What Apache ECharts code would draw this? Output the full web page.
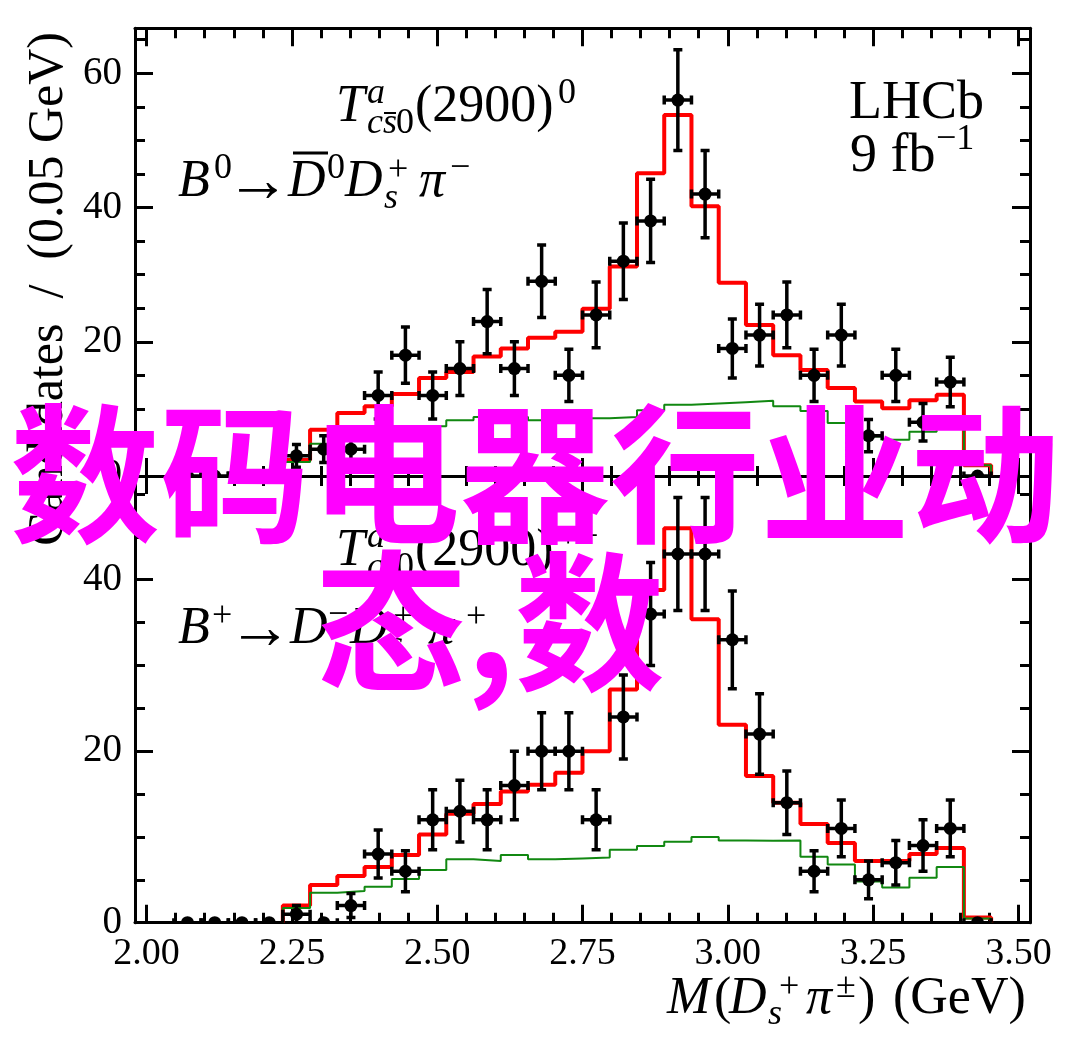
<!DOCTYPE html>
<html><head><meta charset="utf-8">
<script src="https://cdn.jsdelivr.net/npm/echarts@6/dist/echarts.min.js"></script>
<style>html,body{margin:0;padding:0;background:#fff}#c{width:1080px;height:1057px}</style>
</head><body><div id="c"></div>
<script>
// ---------------- data ----------------
const binEdges = [2.000000, 2.046875, 2.093750, 2.140625, 2.187500, 2.234375, 2.281250, 2.328125,
  2.375000, 2.421875, 2.468750, 2.515625, 2.562500, 2.609375, 2.656250, 2.703125, 2.750000,
  2.796875, 2.843750, 2.890625, 2.937500, 2.984375, 3.031250, 3.078125, 3.125000, 3.171875,
  3.218750, 3.265625, 3.312500, 3.359375, 3.406250, 3.453125, 3.500000];

const topCounts   = [null,0,0,0,0,3,4,4,12,18,12,16,23,16,29,15,24,32,38,56,42,19,21,24,15,21,6,15,8,14,0,null];
const topErrors   = [null,0,0,0,0,1.7,2.0,2.0,3.5,4.2,3.5,4.0,4.8,4.0,5.4,3.9,4.9,5.7,6.2,7.5,6.5,4.4,4.6,4.9,3.9,4.6,2.4,3.9,2.8,3.7,0,null];
const topTotalFit = [0,0,0,0,0,2.4,6.9,9.4,10.4,12.2,14.6,15.5,17.8,19.0,20.6,21.5,24.9,31.2,45.1,53.8,40.2,28.8,22.5,18.0,15.8,13.1,11.1,10.1,11.3,12.1,1.6,0];
const topBkgFit   = [0,0,0,0,0,2.1,4.8,5.4,6.0,6.8,7.4,8.3,8.8,8.8,8.3,8.3,8.6,8.8,9.8,10.6,10.8,11.0,11.2,10.4,9.7,7.9,5.9,5.4,6.6,7.9,1.6,0];

const botCounts   = [null,0,0,0,0,1,0,2,8,6,12,13,12,16,20,20,12,24,36,43,43,33,22,14,6,11,5,7,9,11,0,null];
const botErrors   = [null,0,0,0,0,1.0,0,1.4,2.8,2.4,3.5,3.6,3.5,4.0,4.5,4.5,3.5,4.9,6.0,6.6,6.6,5.7,4.7,3.7,2.4,3.3,2.2,2.6,3.0,3.3,0,null];
const botTotalFit = [0,0,0,0,0,2.0,4.4,5.45,6.5,7.9,10.3,12.7,13.85,15.3,16.1,17.5,20.0,27.2,38.8,46.0,35.4,23.1,17.1,14.0,11.5,9.3,7.2,7.2,8.0,8.7,0.6,0];
const botBkgFit   = [0,0,0,0,0,1.7,3.5,3.7,4.2,5.1,6.15,7.4,7.2,7.9,7.4,7.5,7.6,8.5,8.95,9.45,10.0,9.6,9.55,9.6,7.7,6.8,4.8,4.1,5.25,6.5,0.5,0];

const xMajorTicks = [2.00, 2.25, 2.50, 2.75, 3.00, 3.25, 3.50];
const xMinorTicks = [2.05,2.10,2.15,2.20,2.30,2.35,2.40,2.45,2.55,2.60,2.65,2.70,2.80,2.85,2.90,2.95,
  3.05,3.10,3.15,3.20,3.30,3.35,3.40,3.45];
const yMajorTop = [0, 20, 40, 60];
const yMinorTop = [5,10,15,25,30,35,45,50,55,65];
const yMajorBot = [0, 20, 40];
const yMinorBot = [5,10,15,25,30,35,45,50];

const X_MIN = 1.98, X_MAX = 3.52;
const Y_MAX_TOP = 66.7, Y_MAX_BOT = 52.1;

// ---------------- helpers ----------------
const SERIF = 'Liberation Serif';
function stepPoints(vals) {
  let first = -1, last = -1;
  vals.forEach((v, k) => { if (v > 0) { if (first < 0) first = k; last = k; } });
  const pts = [[binEdges[first], 0]];
  for (let k = first; k <= last; k++) pts.push([binEdges[k], vals[k]]);
  pts.push([binEdges[last + 1], 0]);
  return pts;
}
function pointData(counts, errs) {
  const out = [];
  counts.forEach((c, k) => {
    if (c === null) return;
    out.push([(binEdges[k] + binEdges[k + 1]) / 2, c, errs[k], (binEdges[k + 1] - binEdges[k]) / 2]);
  });
  return out;
}
function renderPoint(params, api) {
  const x = api.value(0), y = api.value(1), e = api.value(2), hw = api.value(3);
  const c = api.coord([x, y]);
  const l = api.coord([x - hw, y]), r = api.coord([x + hw, y]);
  const st = { stroke: '#000', lineWidth: 3.5 };
  const ch = [
    { type: 'line', shape: { x1: l[0], y1: c[1], x2: r[0], y2: c[1] }, style: st },
    { type: 'line', shape: { x1: l[0], y1: c[1] - 4.5, x2: l[0], y2: c[1] + 4.5 }, style: st },
    { type: 'line', shape: { x1: r[0], y1: c[1] - 4.5, x2: r[0], y2: c[1] + 4.5 }, style: st }
  ];
  if (e > 0) {
    const t = api.coord([x, y + e]), b = api.coord([x, y - e]);
    ch.push({ type: 'line', shape: { x1: c[0], y1: t[1], x2: c[0], y2: b[1] }, style: st });
    ch.push({ type: 'line', shape: { x1: c[0] - 4.5, y1: t[1], x2: c[0] + 4.5, y2: t[1] }, style: st });
    ch.push({ type: 'line', shape: { x1: c[0] - 4.5, y1: b[1], x2: c[0] + 4.5, y2: b[1] }, style: st });
  }
  ch.push({ type: 'circle', shape: { cx: c[0], cy: c[1], r: 6.5 }, style: { fill: '#000' } });
  return { type: 'group', children: ch };
}
function xAx(grid, pos, ticks, len, line, labels) {
  return {
    type: 'value', gridIndex: grid, position: pos, min: X_MIN, max: X_MAX,
    splitLine: { show: false },
    axisLine: { show: line, onZero: false, lineStyle: { color: '#000', width: 3 } },
    axisTick: { show: true, inside: true, length: len, customValues: ticks, lineStyle: { color: '#000', width: 3 } },
    axisLabel: labels ? { show: true, customValues: xMajorTicks, formatter: v => v.toFixed(2),
      fontFamily: SERIF, fontSize: 38, color: '#000', margin: 12 } : { show: false }
  };
}
function yAx(grid, pos, max, ticks, len, line, labelVals) {
  return {
    type: 'value', gridIndex: grid, position: pos, min: 0, max: max,
    splitLine: { show: false },
    axisLine: { show: line, onZero: false, lineStyle: { color: '#000', width: 3 } },
    axisTick: { show: true, inside: true, length: len, customValues: ticks, lineStyle: { color: '#000', width: 3 } },
    axisLabel: labelVals ? { show: true, customValues: labelVals, formatter: v => String(Math.round(v)),
      fontFamily: SERIF, fontSize: 39, color: '#000', margin: 13 } : { show: false }
  };
}
function txt(s, x, base, size, italic) {
  return { type: 'text', x: x, y: base - 0.305 * size, z: 100,
    style: { text: s, fontFamily: SERIF, fontSize: size, fontStyle: italic ? 'italic' : 'normal', fill: '#000',
      align: 'left', verticalAlign: 'middle', textAlign: 'left', textVerticalAlign: 'middle' } };
}
function arrow(x, midY) {
  return { type: 'text', x: x, y: midY, z: 100,
    style: { text: '\u2192', fontFamily: SERIF, fontSize: 64, fill: '#000',
      align: 'left', verticalAlign: 'middle', textAlign: 'left', textVerticalAlign: 'middle' } };
}
function bar(x1, x2, y, w) {
  return { type: 'line', z: 100, shape: { x1: x1, y1: y, x2: x2, y2: y }, style: { stroke: '#000', lineWidth: w } };
}

// ---------------- annotations ----------------
const BIG = 52, SM = 36;
const g = [];
function tBlock(dy, sup) {
  g.push(txt('T', 336, 123 + dy, BIG, true));
  g.push(txt('a', 367, 105 + dy, SM, true));
  g.push(txt('cs', 367, 135 + dy, SM, true));
  g.push(bar(384, 396, 113 + dy, 2));
  g.push(txt('0', 396, 135 + dy, SM, false));
  g.push(txt('(2900)', 415, 123 + dy, BIG, false));
  g.push(txt(sup, 558, 105 + dy, SM, false));
}
tBlock(0, '0');
tBlock(444, '++');
// B0 -> D0bar Ds+ pi-
g.push(txt('B', 178, 198, BIG, true));
g.push(txt('0', 214, 180, SM, false));
g.push(arrow(226, 184));
g.push(txt('D', 288, 198, BIG, true));
g.push(bar(293, 328, 153, 3));
g.push(txt('0', 327, 180, SM, false));
g.push(txt('D', 345, 198, BIG, true));
g.push(txt('s', 384, 210, SM, true));
g.push(txt('+', 388, 182, SM, false));
g.push(txt('\u03c0', 419, 198, BIG, true));
g.push(txt('\u2212', 450, 180, SM, false));
// B+ -> D- Ds+ pi+
g.push(txt('B', 178, 645, BIG, true));
g.push(txt('+', 212, 628, SM, false));
g.push(arrow(228, 631));
g.push(txt('D', 290, 645, BIG, true));
g.push(txt('\u2212', 328, 627, SM, false));
g.push(txt('D', 350, 645, BIG, true));
g.push(txt('s', 389, 657, SM, true));
g.push(txt('+', 393, 629, SM, false));
g.push(txt('\u03c0', 428, 645, BIG, true));
g.push(txt('+', 466, 629, SM, false));
// LHCb
g.push(txt('LHCb', 849, 120, 54, false));
g.push(txt('9 fb', 850, 173, 54, false));
g.push(txt('\u22121', 936, 151, SM, false));
// x title
g.push(txt('M', 667, 1015, BIG, true));
g.push(txt('(', 714, 1015, BIG, false));
g.push(txt('D', 729, 1015, BIG, true));
g.push(txt('s', 768, 1026, SM, true));
g.push(txt('+', 779, 999, SM, false));
g.push(txt('\u03c0', 806, 1015, BIG, true));
g.push(txt('\u00b1', 836, 999, SM, false));
g.push(txt(')', 858, 1015, BIG, false));
g.push(txt('(GeV)', 893, 1015, BIG, false));
// y title
g.push({ type: 'text', x: 49, y: 32, rotation: Math.PI / 2, z: 100,
  style: { text: 'Candidates  /  (0.05 GeV)', fontFamily: SERIF, fontSize: 50, fill: '#000',
    align: 'right', verticalAlign: 'middle', textAlign: 'right', textVerticalAlign: 'middle' } });
// overlay
const overlay = { fontFamily: 'Noto Sans CJK SC', fontWeight: 'bold', fontSize: 150, fill: '#ff00ff',
  align: 'left', verticalAlign: 'middle', textAlign: 'left', textVerticalAlign: 'middle' };
g.push({ type: 'text', x: 10, y: 474, z: 200, style: Object.assign({ text: '数码电器行业动' }, overlay) });
g.push({ type: 'text', x: 316, y: 622, z: 200, style: Object.assign({ text: '态,数' }, overlay) });

// ---------------- chart ----------------
const chart = echarts.init(document.getElementById('c'), null, { renderer: 'canvas' });
const RED = '#ff0000', GREEN = '#118811';
function seriesFor(axIdx, fit, bkg, counts, errs) {
  return [
    { type: 'line', xAxisIndex: axIdx, yAxisIndex: axIdx, step: 'end', data: stepPoints(fit), showSymbol: false,
      symbol: 'none', lineStyle: { color: RED, width: 4 }, z: 3, silent: true },
    { type: 'line', xAxisIndex: axIdx, yAxisIndex: axIdx, step: 'end', data: stepPoints(bkg), showSymbol: false,
      symbol: 'none', lineStyle: { color: GREEN, width: 2 }, z: 4, silent: true },
    { type: 'custom', xAxisIndex: axIdx, yAxisIndex: axIdx, data: pointData(counts, errs), renderItem: renderPoint,
      encode: { x: 0, y: 1 }, clip: true, z: 5, silent: true }
  ];
}
chart.setOption({
  animation: false,
  backgroundColor: '#fff',
  grid: [
    { left: 135, top: 28.3, width: 895, height: 447.7 },
    { left: 135, top: 476, width: 895, height: 446.7 }
  ],
  xAxis: [
    xAx(0, 'bottom', xMajorTicks, 18, true, false),
    xAx(0, 'bottom', xMinorTicks, 10, false, false),
    xAx(0, 'top', xMajorTicks, 18, true, false),
    xAx(0, 'top', xMinorTicks, 10, false, false),
    xAx(1, 'bottom', xMajorTicks, 18, true, true),
    xAx(1, 'bottom', xMinorTicks, 10, false, false),
    xAx(1, 'top', xMajorTicks, 18, true, false),
    xAx(1, 'top', xMinorTicks, 10, false, false)
  ],
  yAxis: [
    yAx(0, 'left', Y_MAX_TOP, yMajorTop, 18, true, yMajorTop),
    yAx(0, 'left', Y_MAX_TOP, yMinorTop, 10, false, null),
    yAx(0, 'right', Y_MAX_TOP, yMajorTop, 18, true, null),
    yAx(0, 'right', Y_MAX_TOP, yMinorTop, 10, false, null),
    yAx(1, 'left', Y_MAX_BOT, yMajorBot, 18, true, yMajorBot),
    yAx(1, 'left', Y_MAX_BOT, yMinorBot, 10, false, null),
    yAx(1, 'right', Y_MAX_BOT, yMajorBot, 18, true, null),
    yAx(1, 'right', Y_MAX_BOT, yMinorBot, 10, false, null)
  ],
  series: [].concat(
    seriesFor(0, topTotalFit, topBkgFit, topCounts, topErrors),
    seriesFor(4, botTotalFit, botBkgFit, botCounts, botErrors)
  ),
  graphic: { elements: g }
});
</script>
</body></html>
